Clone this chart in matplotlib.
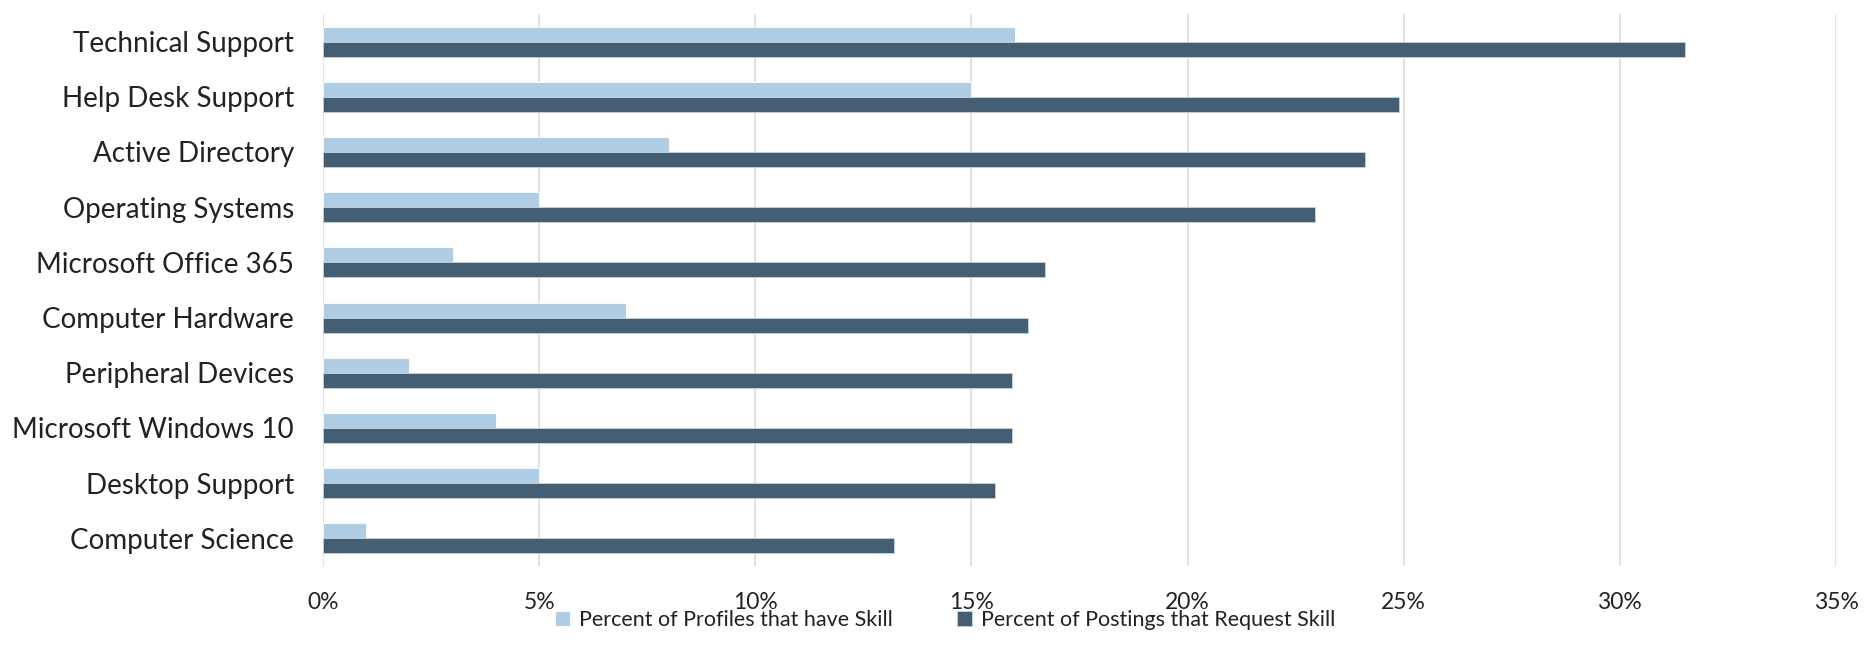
import matplotlib.pyplot as plt
import numpy as np
from matplotlib.ticker import PercentFormatter

# skills, top to bottom
skills = ['Technical Support', 'Help Desk Support', 'Active Directory', 'Operating Systems',
          'Microsoft Office 365', 'Computer Hardware', 'Peripheral Devices',
          'Microsoft Windows 10', 'Desktop Support', 'Computer Science']
profiles = [16, 15, 8, 5, 3, 7, 2, 4, 5, 1]
postings = [31.5, 24.9, 24.1, 22.95, 16.7, 16.3, 15.95, 15.95, 15.55, 13.2]

light = '#afcde5'
dark = '#445e73'

plt.rcParams['font.family'] = ['Lato', 'DejaVu Sans']

fig = plt.figure(figsize=(18.64, 6.63), dpi=100)
ax = fig.add_axes([323 / 1864, 1 - 566 / 663, (1836 - 323) / 1864, 552 / 663])

y = np.arange(len(skills))
h = 0.27
ax.barh(y - h / 2, profiles, height=h, color=light, edgecolor='white', linewidth=0.6,
        label='Percent of Profiles that have Skill', zorder=3)
ax.barh(y + h / 2, postings, height=h, color=dark, edgecolor='#c8d2dc', linewidth=0.6,
        label='Percent of Postings that Request Skill', zorder=3)

ax.set_yticks(y)
ax.set_yticklabels(skills, fontsize=20, color='#222222')
ax.set_ylim(len(skills) - 0.5, -0.5)
ax.set_xlim(0, 35)
ax.set_xticks(range(0, 36, 5))
ax.xaxis.set_major_formatter(PercentFormatter(decimals=0))
ax.tick_params(axis='x', labelsize=16.5, colors='#222222', length=0, pad=19)
ax.tick_params(axis='y', length=0, pad=21)

ax.grid(axis='x', color='#dddddd', linewidth=1.2, zorder=0)
for s in ax.spines.values():
    s.set_visible(False)

fig.legend(loc='center', bbox_to_anchor=(945 / 1864, 1 - 620 / 663), ncol=2,
           frameon=False, fontsize=15.5, handlelength=0.7, handleheight=0.7,
           handletextpad=0.4, columnspacing=3.0, labelcolor='#222222')

fig.savefig('out.png', dpi=100)
